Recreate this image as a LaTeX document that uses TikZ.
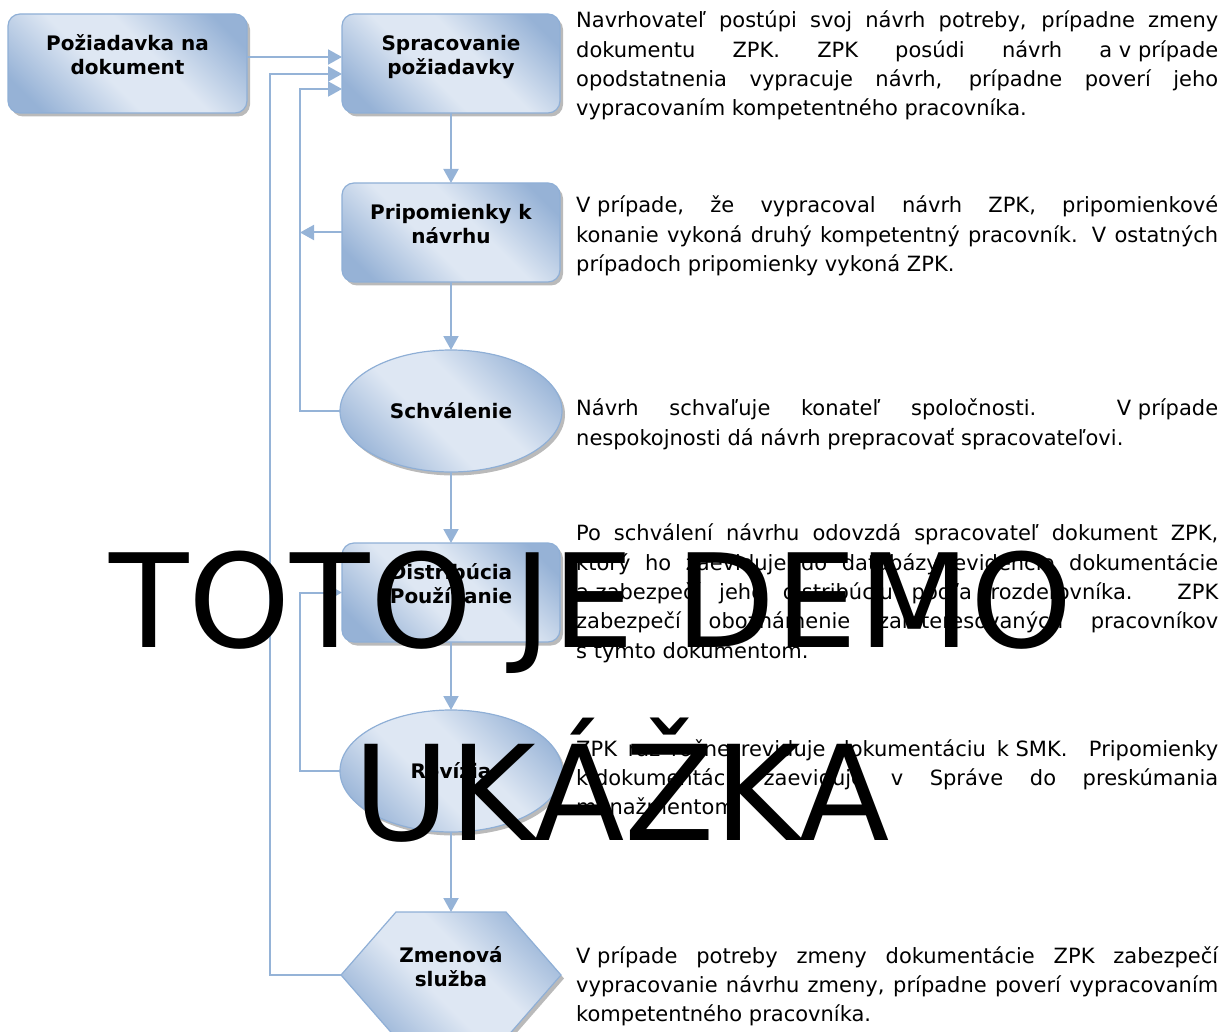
\documentclass[tikz,border=0pt]{standalone}
\usepackage{fontspec}
\setmainfont{DejaVu Sans}
\usetikzlibrary{positioning,arrows.meta,shapes.geometric,shadows,backgrounds}
\definecolor{flowlight}{RGB}{222,231,243}
\definecolor{flowdark}{RGB}{150,178,214}
\definecolor{flowline}{RGB}{143,175,214}
\definecolor{flowarrow}{RGB}{149,179,215}
\pgfdeclareverticalshading{flowshade}{100bp}{color(0bp)=(flowdark); color(22bp)=(flowdark);
  color(43bp)=(flowlight); color(57bp)=(flowlight); color(78bp)=(flowdark); color(100bp)=(flowdark)}
\tolerance=9999
\hyphenpenalty=10000
\tikzset{
  flowfill/.style = {draw=flowline, line width=1.2pt, shading=flowshade, shading angle=-45,
                     drop shadow={shadow xshift=3pt, shadow yshift=-3.5pt,
                                  fill=black!45, opacity=.6}},
  flowtext/.style = {outer sep=0pt, inner sep=0pt, align=center,
                     font=\fontsize{20pt}{24pt}\selectfont\bfseries},
  flow/.style = {flowfill, flowtext},
  box/.style  = {flow, rectangle, rounded corners=12pt, text depth=18pt,
                 minimum width=218pt, minimum height=99pt},
  oval/.style = {flow, ellipse, minimum width=222pt, minimum height=122pt},
  hexa/.style = {flowtext, rectangle, text depth=18pt,
                 minimum width=220pt, minimum height=126pt},
  arr/.style  = {draw=flowarrow, line width=2pt, -{Triangle[length=14pt,width=15pt]}},
  desc/.style = {anchor=north west, inner sep=0pt, text width=642pt, align=justify,
                 font=\fontsize{21pt}{29.3pt}\selectfont},
  demo/.style = {anchor=base west, inner sep=0pt, font=\fontsize{130pt}{140pt}\selectfont}
}

\begin{document}
\begin{tikzpicture}[x=1pt, y=-1pt]
  \useasboundingbox (0,0) rectangle (1223,1032);
  % flow
  \node[box, minimum width=239pt] (req) at (127.5,63.5) {Požiadavka na\\dokument};
  \node[box, right=95pt of req] (proc) {Spracovanie\\požiadavky};
  \node[box, below=70pt of proc] (rem) {Pripomienky k\\návrhu};
  \node[oval, below=68pt of rem] (appr) {Schválenie};
  \node[box, below=71pt of appr] (dist) {Distribúcia\\Používanie};
  \node[oval, below=68pt of dist] (rev) {Revízia};
  \node[hexa, below=80pt of rev] (chg) {Zmenová\\služba};
  \begin{scope}[on background layer]
    \path[flowfill] (chg.west) -- ([xshift=55pt]chg.north west) -- ([xshift=-55pt]chg.north east)
      -- (chg.east) -- ([xshift=-55pt]chg.south east) -- ([xshift=55pt]chg.south west) -- cycle;
  \end{scope}
  \coordinate (outer) at (270,0);
  \coordinate (inner) at (300,0);

  \draw[arr] ([yshift=6.5pt]req.east) -- ([yshift=6.5pt]proc.west);
  \draw[arr] (proc) -- (rem);
  \draw[arr] (rem) -- (appr);
  \draw[arr] (appr) -- (dist);
  \draw[arr] (dist) -- (rev);
  \draw[arr] (rev) -- (chg);
  \draw[arr] (rem.west) -- (rem.west -| inner);
  \draw[arr] (appr.west) -- (appr.west -| inner) |- ([yshift=-25.5pt]proc.west);
  \draw[arr] (chg.west) -- (chg.west -| outer) |- ([yshift=-10.5pt]proc.west);
  \draw[arr] (rev.west) -- (rev.west -| inner) |- (dist.west);

  % popisy
  \node[desc] (t1) at (576,11) {Navrhovateľ postúpi svoj návrh potreby, prípadne zmeny\linebreak
    dokumentu ZPK. ZPK posúdi návrh \mbox{a v prípade}\linebreak
    opodstatnenia vypracuje návrh, prípadne poverí jeho\linebreak
    vypracovaním kompetentného pracovníka.};
  \node[desc] (t2) at (576,196) {\mbox{V prípade,} že vypracoval návrh ZPK, pripomienkové\linebreak
    konanie vykoná druhý kompetentný pracovník. V ostatných\linebreak
    prípadoch pripomienky vykoná ZPK.};
  \node[desc] (t3) at (576,399) {Návrh schvaľuje konateľ spoločnosti. \mbox{V prípade}\linebreak
    nespokojnosti dá návrh prepracovať spracovateľovi.};
  \node[desc] (t4) at (576,524) {Po schválení návrhu odovzdá spracovateľ dokument ZPK,\linebreak
    ktorý ho zaeviduje do databázy evidencie dokumentácie\linebreak
    \mbox{a zabezpečí} jeho distribúciu podľa rozdeľovníka. ZPK\linebreak
    zabezpečí oboznámenie zainteresovaných pracovníkov\linebreak
    \mbox{s týmto} dokumentom.};
  \node[desc] (t5) at (576,739) {ZPK raz ročne reviduje dokumentáciu \mbox{k SMK}. Pripomienky\linebreak
    \mbox{k dokumentácii} zaeviduje v Správe do preskúmania\linebreak
    manažmentom.};
  \node[desc] (t6) at (576,946) {\mbox{V prípade} potreby zmeny dokumentácie ZPK zabezpečí\linebreak
    vypracovanie návrhu zmeny, prípadne poverí vypracovaním\linebreak
    kompetentného pracovníka.};

  % vodoznak
  \node[demo] (wm1) at (109,647) {TOTO JE DEMO};
  \node[demo, font=\fontsize{132pt}{140pt}\selectfont] (wm2) at (353,840) {UKÁŽKA};
\end{tikzpicture}
\end{document}
